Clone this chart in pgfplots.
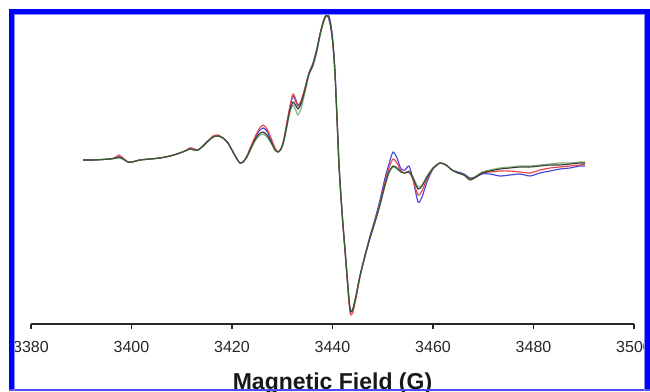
\documentclass[border=0pt]{standalone}
\usepackage{fontspec}
\setmainfont{Liberation Sans}
\usepackage{pgfplots}
\usepackage{pgfplotstable}
\pgfplotsset{compat=1.18}
\definecolor{cblack}{HTML}{3A3A3A}
\definecolor{cred}{HTML}{E8454A}
\definecolor{cblue}{HTML}{4545E0}
\definecolor{cgreen}{HTML}{2F7A2F}
\definecolor{frameblue}{HTML}{0000FF}
\pgfplotstableread{
G I
3390.35 164
3392.34 164
3395.72 165
3396.92 166
3397.51 167
3398.31 165
3399.30 162
3400.10 162
3401.69 164
3403.68 165
3405.67 166
3407.66 168
3409.05 170
3410.65 173
3411.64 175
3412.44 174
3413.23 174
3414.23 178
3415.22 183
3416.22 187
3417.21 188
3418.21 186
3419.20 181
3420.20 172
3420.99 165
3421.59 161
3422.19 162
3422.98 167
3423.78 176
3424.58 184
3425.37 190
3426.17 192
3426.96 189
3427.76 182
3428.56 174
3429.15 172
3429.75 175
3430.35 184
3430.94 199
3431.54 214
3432.14 222
3432.74 218
3433.13 215
3433.73 220
3434.53 234
3435.32 250
3436.12 259
3436.91 274
3437.51 289
3438.11 301
3438.51 307
3438.90 309
3439.30 305
3439.70 296
3440.10 279
3440.50 250
3440.90 205
3441.29 159
3441.69 127
3442.09 99
3442.49 75
3442.88 50
3443.28 25
3443.48 16
3443.68 12
3444.08 15
3444.68 28
3445.47 48
3446.47 68
3447.46 86
3448.46 102
3449.45 119
3450.45 139
3451.24 152
3452.04 158
3452.84 156
3453.63 152
3454.43 151
3455.22 152
3456.02 146
3457.01 135
3457.81 138
3458.80 147
3460.00 156
3461.39 161
3462.59 159
3463.78 154
3464.97 151
3466.17 149
3467.36 144
3468.56 147
3469.75 151
3471.34 153
3473.33 155
3475.32 156
3477.31 157
3479.30 157
3481.29 158
3483.28 159
3485.27 159
3487.26 160
3489.25 161
3490.25 161
}\blackdata
\pgfplotstableread{
G I
3390.35 164
3392.34 164
3395.72 165
3396.92 167
3397.51 169
3398.31 166
3399.30 162
3400.10 162
3401.69 164
3403.68 165
3405.67 166
3407.66 168
3409.05 170
3410.65 173
3411.64 176
3412.44 175
3413.23 174
3414.23 178
3415.22 183
3416.22 188
3417.21 189
3418.21 186
3419.20 181
3420.20 172
3420.99 165
3421.59 161
3422.19 162
3422.98 168
3423.78 178
3424.58 187
3425.37 195
3426.17 199
3426.96 195
3427.76 186
3428.56 176
3429.15 172
3429.75 175
3430.35 185
3430.94 202
3431.54 218
3432.14 230
3432.74 224
3433.13 219
3433.73 223
3434.53 236
3435.32 251
3436.12 260
3436.91 275
3437.51 290
3438.11 302
3438.51 307
3438.90 309
3439.30 305
3439.70 295
3440.10 278
3440.50 249
3440.90 204
3441.29 158
3441.69 125
3442.09 97
3442.49 72
3442.88 46
3443.28 21
3443.48 12
3443.68 9
3444.08 12
3444.68 26
3445.47 47
3446.47 68
3447.46 86
3448.46 103
3449.45 121
3450.45 142
3451.24 156
3452.04 165
3452.84 161
3453.63 153
3454.43 151
3455.22 153
3456.02 144
3457.01 129
3457.81 133
3458.80 145
3460.00 155
3461.39 161
3462.59 159
3463.78 154
3464.97 151
3466.17 149
3467.36 145
3468.56 147
3469.75 151
3471.34 152
3473.33 153
3475.32 153
3477.31 152
3479.30 151
3481.29 154
3483.28 156
3485.27 157
3487.26 158
3489.25 159
3490.25 160
}\reddata
\pgfplotstableread{
G I
3390.35 164
3392.34 164
3395.72 165
3396.92 166
3397.51 167
3398.31 165
3399.30 162
3400.10 162
3401.69 164
3403.68 165
3405.67 166
3407.66 168
3409.05 170
3410.65 173
3411.64 176
3412.44 175
3413.23 174
3414.23 178
3415.22 183
3416.22 187
3417.21 188
3418.21 186
3419.20 181
3420.20 172
3420.99 165
3421.59 161
3422.19 162
3422.98 168
3423.78 177
3424.58 186
3425.37 193
3426.17 196
3426.96 193
3427.76 184
3428.56 175
3429.15 172
3429.75 175
3430.35 185
3430.94 201
3431.54 217
3432.14 228
3432.74 222
3433.13 218
3433.73 222
3434.53 236
3435.32 251
3436.12 261
3436.91 276
3437.51 290
3438.11 301
3438.51 306
3438.90 309
3439.30 308
3439.70 299
3440.10 282
3440.50 253
3440.90 208
3441.29 161
3441.69 128
3442.09 99
3442.49 74
3442.88 49
3443.28 24
3443.48 15
3443.68 12
3444.08 15
3444.68 28
3445.47 48
3446.47 69
3447.46 88
3448.46 105
3449.45 124
3450.45 146
3451.24 160
3452.04 172
3452.84 166
3453.63 155
3454.43 154
3455.22 158
3456.02 145
3457.01 122
3457.81 127
3458.80 142
3460.00 155
3461.39 161
3462.59 159
3463.78 154
3464.97 152
3466.17 150
3467.36 146
3468.56 147
3469.75 150
3471.34 150
3473.33 148
3475.32 149
3477.31 150
3479.30 148
3481.29 151
3483.28 153
3485.27 155
3487.26 156
3489.25 158
3490.25 158
}\bluedata
\pgfplotstableread{
G I
3390.35 164
3392.34 164
3395.72 165
3396.92 166
3397.51 166
3398.31 165
3399.30 162
3400.10 162
3401.69 164
3403.68 165
3405.67 166
3407.66 168
3409.05 170
3410.65 173
3411.64 175
3412.44 174
3413.23 174
3414.23 178
3415.22 183
3416.22 187
3417.21 188
3418.21 186
3419.20 181
3420.20 172
3420.99 165
3421.59 161
3422.19 162
3422.98 167
3423.78 175
3424.58 183
3425.37 188
3426.17 190
3426.96 187
3427.76 181
3428.56 174
3429.15 172
3429.75 175
3430.35 183
3430.94 197
3431.54 212
3432.14 219
3432.74 213
3433.13 209
3433.73 215
3434.53 232
3435.32 249
3436.12 258
3436.91 273
3437.51 288
3438.11 300
3438.51 306
3438.90 309
3439.30 305
3439.70 296
3440.10 279
3440.50 250
3440.90 205
3441.29 159
3441.69 127
3442.09 99
3442.49 75
3442.88 50
3443.28 25
3443.48 16
3443.68 13
3444.08 16
3444.68 29
3445.47 49
3446.47 68
3447.46 86
3448.46 102
3449.45 119
3450.45 138
3451.24 151
3452.04 157
3452.84 155
3453.63 152
3454.43 151
3455.22 152
3456.02 147
3457.01 137
3457.81 139
3458.80 148
3460.00 156
3461.39 161
3462.59 159
3463.78 154
3464.97 151
3466.17 149
3467.36 145
3468.56 148
3469.75 152
3471.34 154
3473.33 156
3475.32 157
3477.31 158
3479.30 158
3481.29 159
3483.28 160
3485.27 161
3487.26 161
3489.25 162
3490.25 162
}\greendata
\begin{document}
\begin{tikzpicture}[x=1pt,y=1pt]
\useasboundingbox (0,0) rectangle (650,391);
\fill[white] (0,0) rectangle (650,391);
\begin{scope}
\clip (0,0) rectangle (650,391);
\begin{axis}[
  at={(31pt,67pt)}, anchor=south west,
  scale only axis, width=603pt, height=310pt,
  xmin=3380, xmax=3500, ymin=0, ymax=310,
  axis x line*=bottom, axis y line=none,
  x axis line style={line width=1.3pt, color=black!85, -},
  xtick={3380,3400,...,3500},
  tick align=outside, major tick length=5pt,
  xtick style={line width=1.3pt, color=black!85},
  xticklabel style={font=\fontsize{16}{18}\selectfont, color=black!85, anchor=north, inner sep=0pt, yshift=-12pt},
  /pgf/number format/assume math mode=true,
  /pgf/number format/1000 sep={},
  xlabel={Magnetic Field (G)},
  xlabel style={font=\bfseries\fontsize{23}{26}\selectfont, at={(axis description cs:0.5,0)}, anchor=north, yshift=-49pt, inner sep=0pt, color=black!90},
  clip=false,
  every axis plot/.append style={line width=1.15pt, line join=round},
]
\addplot[cblue, no marks, smooth, tension=0.4] table[x=G,y=I] {\bluedata};
\addplot[cred, no marks, smooth, tension=0.4] table[x=G,y=I] {\reddata};
\addplot[cblack, no marks, smooth, tension=0.4] table[x=G,y=I] {\blackdata};
\addplot[cgreen, no marks, smooth, tension=0.4, opacity=0.6] table[x=G,y=I] {\greendata};
\end{axis}
\end{scope}
\fill[white] (0,0) rectangle (9,391);
\fill[white] (0,382) rectangle (650,391);
\fill[frameblue] (9,0) rectangle (14,382);
\fill[frameblue] (9,377) rectangle (650,382);
\fill[frameblue] (645,0) rectangle (650,382);
\fill[frameblue!70] (9,0) rectangle (650,2);
\fill[frameblue!45] (14,0) rectangle (15,377);
\fill[frameblue!45] (14,376) rectangle (645,377);
\fill[frameblue!45] (644,0) rectangle (645,376);
\end{tikzpicture}
\end{document}
